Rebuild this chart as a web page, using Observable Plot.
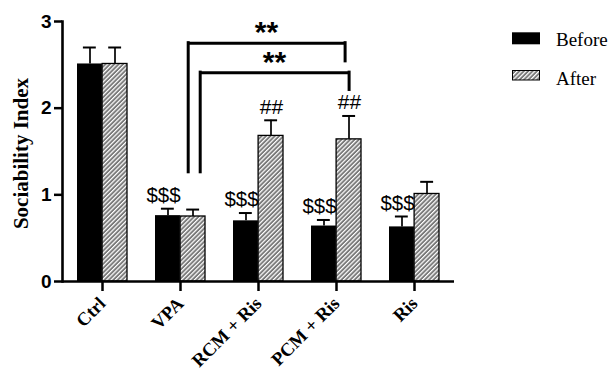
<!DOCTYPE html>
<html><head><meta charset="utf-8">
<script src="https://cdn.jsdelivr.net/npm/d3@7"></script>
<script src="https://cdn.jsdelivr.net/npm/@observablehq/plot@0.6"></script>
<style>
body{margin:0;background:#fff;}
#wrap{position:relative;width:613px;height:376px;overflow:hidden;}
#legend{position:absolute;left:0;top:0;}
</style></head><body><div id="wrap"></div>
<script>
// ---- data ----
const groups = ["Ctrl", "VPA", "RCM + Ris", "PCM + Ris", "Ris"];
const beforeMean = [2.51, 0.76, 0.70, 0.64, 0.63];
const beforeErr  = [0.19, 0.08, 0.09, 0.07, 0.12];
const afterMean  = [2.51, 0.75, 1.68, 1.64, 1.01];
const afterErr   = [0.19, 0.08, 0.18, 0.27, 0.14];
const beforeMarks = ["", "$$$", "$$$", "$$$", "$$$"];
const afterMarks  = ["", "", "##", "##", ""];
const yTicks = [0, 1, 2, 3];
const seriesNames = ["Before", "After"];
const yTitle = "Sociability Index";
// significance brackets
const bracketFrom   = ["VPA", "VPA"];
const bracketTo     = ["PCM + Ris", "PCM + Ris"];
const bracketTop    = [2.75, 2.41];
const bracketLeftY  = [1.26, 1.26];
const bracketRightY = [2.54, 2.21];
const bracketLabels = ["**", "**"];

// ---- styling (pixel offsets) ----
const bracketStyle = [
  {dxL: 7.7, dxR: 8.6, insetL: 32.8, insetR: 16.5, dxText: 8},
  {dxL: 19.7, dxR: 12.6, insetL: 44.8, insetR: 12.5, dxText: 16}
];

const rows = groups.map((g, i) => ({
  group: g, before: beforeMean[i], bErr: beforeErr[i], after: afterMean[i], aErr: afterErr[i],
  bMark: beforeMarks[i], aMark: afterMarks[i]
}));
const brackets = bracketFrom.map((f, i) => ({
  from: f, to: bracketTo[i], top: bracketTop[i], ly: bracketLeftY[i], ry: bracketRightY[i],
  label: bracketLabels[i],
  mid: groups[Math.round((groups.indexOf(f) + groups.indexOf(bracketTo[i])) / 2)]
}));

const sans = "Liberation Sans, Arial, sans-serif";
const serif = "Liberation Serif, Times New Roman, serif";

const bracketMarks = brackets.flatMap((b, i) => {
  const s = bracketStyle[i];
  return [
    Plot.ruleX([b], {x: "from", y1: "ly", y2: "top", dx: s.dxL, strokeWidth: 3, strokeLinecap: "square"}),
    Plot.ruleX([b], {x: "to", y1: "ry", y2: "top", dx: s.dxR, strokeWidth: 3, strokeLinecap: "square"}),
    Plot.ruleY([b], {y: "top", x1: "from", x2: "to", insetLeft: s.insetL, insetRight: s.insetR, strokeWidth: 3}),
    Plot.text([b], {x: "mid", y: "top", text: "label", dx: s.dxText, dy: -1, lineAnchor: "bottom",
      fontSize: 30, fontWeight: "bold", fontFamily: sans})
  ];
});

const chart = Plot.plot({
  width: 613, height: 376,
  marginLeft: 62, marginRight: 159, marginTop: 21, marginBottom: 95,
  x: {domain: groups, paddingInner: 0.36, paddingOuter: 0.18, label: null},
  y: {domain: [0, 3], label: null},
  style: {background: "white", color: "black"},
  marks: [
    Plot.barY(rows, {x: "group", y: "before", fill: "black", insetRight: 25.1}),
    Plot.barY(rows, {x: "group", y: "after", fill: "url(#hatch)", stroke: "black", strokeWidth: 1.3, insetLeft: 25.1}),
    Plot.ruleX(rows, {x: "group", y1: "before", y2: d => d.before + d.bErr, dx: -12.5, strokeWidth: 1.7}),
    Plot.ruleX(rows, {x: "group", y1: "after", y2: d => d.after + d.aErr, dx: 12.5, strokeWidth: 1.7}),
    Plot.tickY(rows, {x: "group", y: d => d.before + d.bErr, insetLeft: 5.9, insetRight: 31.2, strokeWidth: 2}),
    Plot.tickY(rows, {x: "group", y: d => d.after + d.aErr, insetLeft: 31.2, insetRight: 5.9, strokeWidth: 2}),
    Plot.text(rows, {x: "group", y: d => d.before + d.bErr, text: "bMark", dx: -17, dy: -7, lineAnchor: "bottom",
      fontSize: 20.5, fontFamily: sans}),
    Plot.text(rows, {x: "group", y: d => d.after + d.aErr, text: "aMark", dx: 13, dy: -6.5, lineAnchor: "bottom",
      fontSize: 21, fontFamily: sans}),
    ...bracketMarks,
    Plot.ruleY([0], {strokeWidth: 2.6}),
    Plot.frame({anchor: "left", strokeWidth: 2.6}),
    Plot.axisY({ticks: yTicks, tickFormat: d3.format("d"), tickSize: 8, tickPadding: 3, strokeWidth: 2.5,
      fontSize: 19, fontWeight: "bold", fontFamily: sans, label: null}),
    Plot.axisX({tickSize: 10, tickPadding: 9, tickRotate: -45, strokeWidth: 2.5,
      fontSize: 18.5, fontWeight: "bold", fontFamily: serif, label: null}),
    Plot.text([yTitle], {frameAnchor: "left", textAnchor: "middle", rotate: -90, dx: -41, dy: 2,
      fontSize: 21, fontWeight: "bold", fontFamily: serif})
  ]
});

// hatch pattern
const defs = document.createElementNS("http://www.w3.org/2000/svg", "defs");
defs.innerHTML = `<pattern id="hatch" patternUnits="userSpaceOnUse" width="3.1" height="3.1" patternTransform="rotate(45)">
  <rect width="3.1" height="3.1" fill="#7a7a7a"></rect>
  <rect width="1.2" height="3.1" fill="#ffffff"></rect></pattern>`;
chart.insertBefore(defs, chart.firstChild);
document.getElementById("wrap").appendChild(chart);

// legend
const legend = document.createElementNS("http://www.w3.org/2000/svg", "svg");
legend.setAttribute("id", "legend");
legend.setAttribute("width", 613);
legend.setAttribute("height", 120);
legend.innerHTML = `<defs><pattern id="hatch2" patternUnits="userSpaceOnUse" width="3.1" height="3.1" patternTransform="rotate(45)">
  <rect width="3.1" height="3.1" fill="#7a7a7a"></rect>
  <rect width="1.2" height="3.1" fill="#ffffff"></rect></pattern></defs>
  <rect x="512" y="32.3" width="28" height="12" fill="black"></rect>
  <text x="556" y="45.7" font-family="${serif}" font-size="19">${seriesNames[0]}</text>
  <rect x="512.5" y="70.5" width="27" height="9.5" fill="url(#hatch2)" stroke="black" stroke-width="1"></rect>
  <text x="556" y="85" font-family="${serif}" font-size="19">${seriesNames[1]}</text>`;
document.getElementById("wrap").appendChild(legend);
</script></body></html>
